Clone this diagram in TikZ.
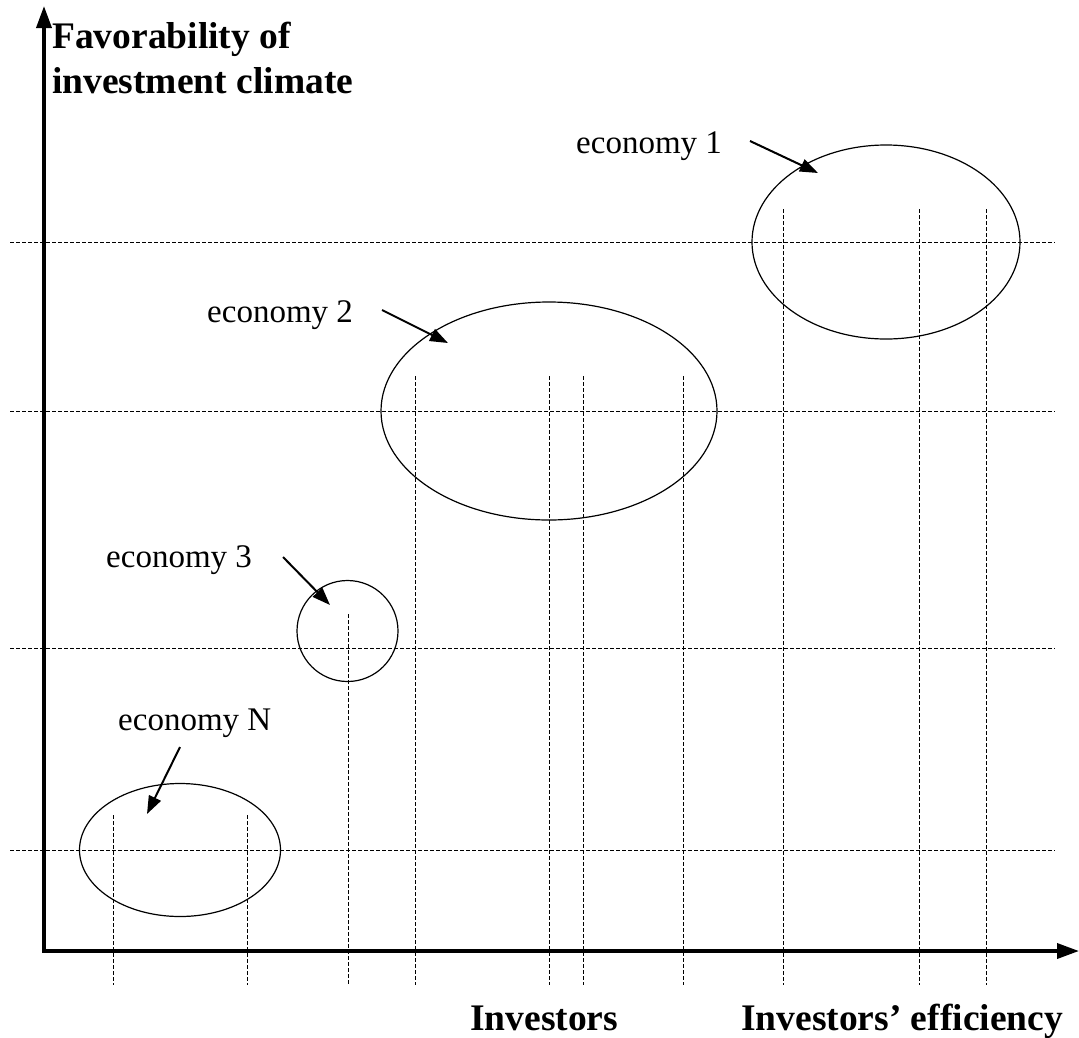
\documentclass[tikz,border=0pt]{standalone}
\usepackage{fontspec}
\setmainfont{Liberation Serif}
\usetikzlibrary{arrows.meta,shapes.geometric}
\begin{document}
\begin{tikzpicture}[x=1pt,y=-1pt,
  axis/.style={line width=3.6pt,{Triangle[length=22pt,width=15pt]}-{Triangle[length=22pt,width=15pt]}},
  gridline/.style={dash pattern=on 4pt off 2pt,line width=0.7pt},
  eco/.style={draw,ellipse,line width=1.2pt,inner sep=0pt},
  pointer/.style={line width=2pt,-{Triangle[length=18pt,width=13pt]}},
  ecolab/.style={anchor=base west,inner sep=0pt,font=\fontsize{33pt}{40pt}\selectfont},
  axlab/.style={anchor=base west,inner sep=0pt,align=left,font=\bfseries\fontsize{37.5pt}{45pt}\selectfont}]
\useasboundingbox (0,0) rectangle (1079,1037);

% grid lines
\foreach \yy in {242,411,648,850}
  \draw[gridline] (10,\yy) -- (1055,\yy);
\foreach \xx in {113,247}
  \draw[gridline] (\xx,815) -- (\xx,985);
\draw[gridline] (348,614) -- (348,985);
\foreach \xx in {415,549,583,683}
  \draw[gridline] (\xx,376) -- (\xx,985);
\foreach \xx in {783,919,986}
  \draw[gridline] (\xx,209) -- (\xx,985);

% axes
\coordinate (ytop) at (44,6);
\coordinate (origin) at (44,951);
\coordinate (xend) at (1079,951);
\draw[axis] (ytop) -- (origin) -- (xend);

% economies
\node[eco,minimum width=268pt,minimum height=194pt] (e1) at (886,242) {};
\node[eco,minimum width=336pt,minimum height=218pt] (e2) at (549,411) {};
\node[eco,minimum width=101pt,minimum height=101pt] (e3) at (347.5,631) {};
\node[eco,minimum width=201pt,minimum height=133pt] (eN) at (180,850) {};

% labels
\node[ecolab] (l1) at (576,153) {economy 1};
\node[ecolab] (l2) at (207,322) {economy 2};
\node[ecolab] (l3) at (106,567) {economy 3};
\node[ecolab] (lN) at (118,730) {economy N};

% pointers
\coordinate (s1) at (750,141);
\coordinate (t1) at (818,173);
\coordinate (s2) at (382,310);
\coordinate (t2) at (448,343);
\coordinate (s3) at (283,557);
\coordinate (t3) at (330,605);
\coordinate (sN) at (180,747);
\coordinate (tN) at (147,814);
\draw[pointer] (s1) -- (t1);
\draw[pointer] (s2) -- (t2);
\draw[pointer] (s3) -- (t3);
\draw[pointer] (sN) -- (tN);

% axis labels
\node[axlab] (ylab) at (52,93) {Favorability of\\investment climate};
\node[axlab] (xlab1) at (470,1030) {Investors};
\node[axlab] (xlab2) at (741,1030) {Investors’ efficiency};
\end{tikzpicture}
\end{document}
